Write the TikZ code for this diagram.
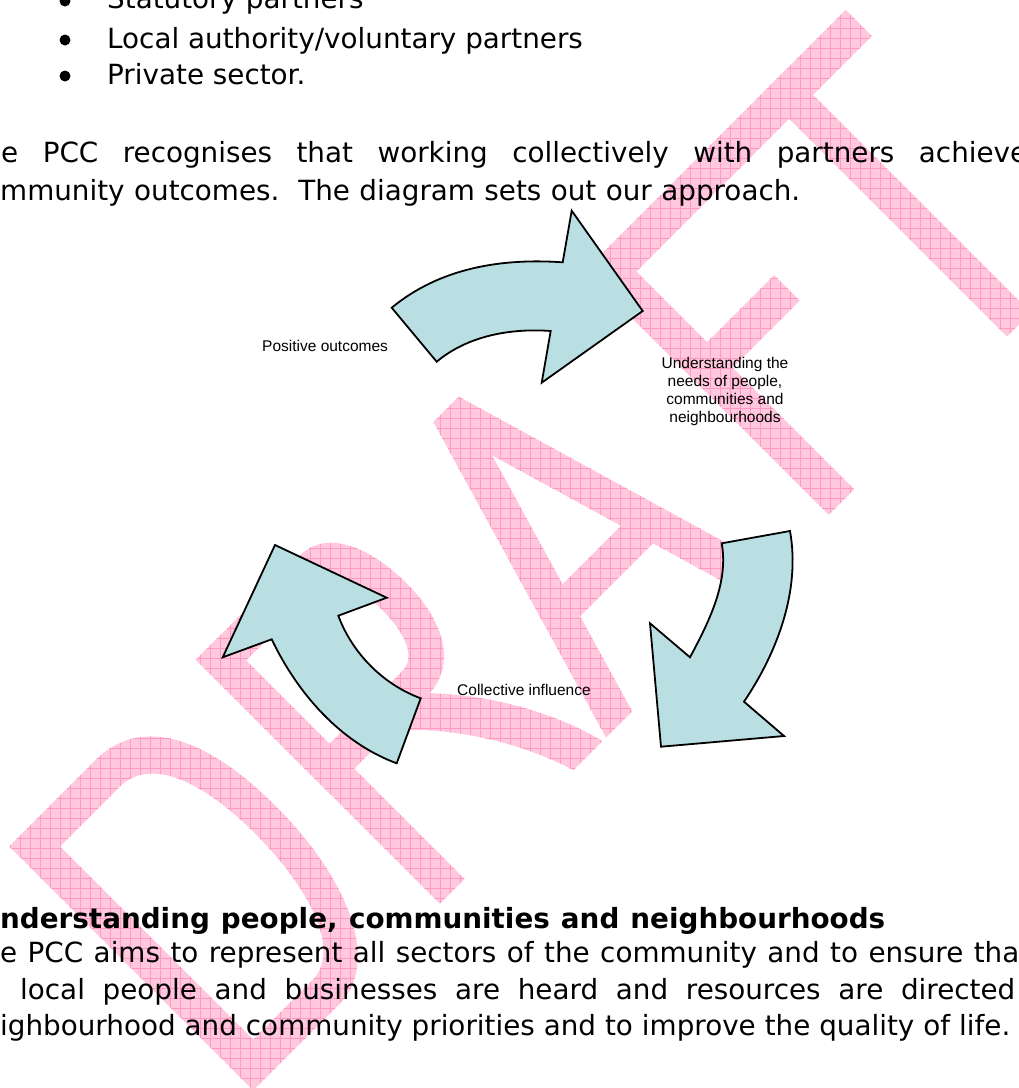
\documentclass[tikz,border=0pt]{standalone}
\usepackage{fontspec}
\setmainfont{DejaVu Sans}
\newfontfamily\labelfont{Liberation Sans}
\usetikzlibrary{patterns}

\definecolor{draftpink}{RGB}{255,200,221}
\definecolor{draftline}{RGB}{255,152,196}
\definecolor{arrowblue}{RGB}{186,223,227}

\pgfdeclarepatternformonly{draftgrid}{\pgfqpoint{-1pt}{-1pt}}{\pgfqpoint{11pt}{11pt}}{\pgfqpoint{10pt}{10pt}}{%
    \pgfsetlinewidth{0.8pt}%
    \pgfpathmoveto{\pgfqpoint{0pt}{-1pt}}\pgfpathlineto{\pgfqpoint{0pt}{11pt}}%
    \pgfpathmoveto{\pgfqpoint{-1pt}{0pt}}\pgfpathlineto{\pgfqpoint{11pt}{0pt}}%
    \pgfusepath{stroke}}

\tikzset{
    draftink/.style={fill=draftpink, postaction={pattern=draftgrid, pattern color=draftline}},
    bentarrow/.style={draw=black, line width=1.8pt, line join=miter, fill=arrowblue},
    tag/.style={font=\labelfont\fontsize{15.5}{18}\selectfont, align=center, inner sep=0pt},
    body/.style={font=\fontsize{27.8}{33}\selectfont, anchor=base west, inner sep=0pt},
    headline/.style={body, font=\fontsize{27.8}{33}\selectfont\bfseries}
}

\begin{document}
\begin{tikzpicture}[x=1pt, y=-1pt]
                                \useasboundingbox (0,0) rectangle (1019,1088);
                                \clip (0,0) rectangle (1019,1088);
                                \fill[white] (0,0) rectangle (1019,1088);

                                \begin{scope}[shift={(671.75,671.75)}, rotate=45, y=1pt]
                                    % D
                                    \fill[draftink, even odd rule] (-592,0) -- (-592,345) -- (-470,345)
                                    .. controls (-410,345) and (-375,290) .. (-375,185)
                                    .. controls (-375,80) and (-412,0) .. (-470,0) -- cycle
                                    (-556,36) -- (-556,309) -- (-472,309)
                                    .. controls (-432,309) and (-409,262) .. (-409,180)
                                    .. controls (-409,100) and (-432,36) .. (-472,36) -- cycle;
                                    % R
                                    \fill[draftink] (-328,0) rectangle (-293,345);
                                    \fill[draftink, even odd rule] (-328,345) -- (-180,345)
                                    .. controls (-145,345) and (-125,305) .. (-125,250)
                                    .. controls (-125,192) and (-150,156) .. (-190,156) -- (-328,156) -- cycle
                                    (-293,309) -- (-185,309)
                                    .. controls (-170,309) and (-161,288) .. (-161,250)
                                    .. controls (-161,212) and (-172,191) .. (-190,191) -- (-293,191) -- cycle;
                                    \fill[draftink] (-139,0) -- (-98,0)
                                    .. controls (-112,55) and (-145,115) .. (-195,165)
                                    -- (-243,160)
                                    .. controls (-195,118) and (-158,60) .. (-139,0) -- cycle;
                                    % A
                                    \fill[draftink] (-93,0) -- (-56,0) -- (45,345) -- (8,345) -- cycle;
                                    \fill[draftink] (108,0) -- (145,0) -- (44,345) -- (7,345) -- cycle;
                                    \fill[draftink] (-45,104) rectangle (100,139);
                                    % F
                                    \fill[draftink] (222,0) rectangle (258,345);
                                    \fill[draftink] (222,308) rectangle (420,345);
                                    \fill[draftink] (222,172) rectangle (353,208);
                                    % T
                                    \fill[draftink] (391,308) rectangle (591,345);
                                    \fill[draftink] (474,0) rectangle (508,345);
                                \end{scope}

                                \fill (65,1) circle (5.5);
                                \fill (65,40) circle (5.5);
                                \fill (65,76) circle (5.5);
                                \node[body] (statutory) at (107,8) {Statutory partners};
                                \node[body] (localvol) at (107,48) {Local authority/voluntary partners};
                                \node[body] (private) at (107,84) {Private sector.};

                                \node[body] (recognise) at (1,162)
                                {\makebox[1026pt][s]{e PCC recognises that working collectively with partners achieve}};
                                \node[body] (approach) at (0,200)
                                {\makebox[800pt][s]{mmunity outcomes.\ \ The diagram sets out our approach.}};

                                \draw[bentarrow] (391.7,307.7)
                                .. controls (440,268) and (501,258) .. (562.7,262.3)
                                -- (571.7,210.7)
                                -- (642.7,311)
                                -- (541.7,382.7)
                                -- (550.7,331)
                                .. controls (510,328) and (467.4,336) .. (436.7,361.7)
                                -- cycle;

                                \draw[bentarrow] (721.7,543.3)
                                -- (790,531)
                                .. controls (800.6,590) and (777.6,651.9) .. (744,701.7)
                                -- (784,736)
                                -- (661,746.7)
                                -- (650,623.3)
                                -- (690,657.3)
                                .. controls (708.8,622) and (728.8,582.7) .. (721.7,543.3)
                                -- cycle;

                                \draw[bentarrow] (420.7,698.3)
                                -- (396.7,763.3)
                                .. controls (340.4,742.5) and (297.5,693.3) .. (271.7,639.3)
                                -- (222.7,657.3)
                                -- (275,545)
                                -- (386.7,597.7)
                                -- (338.3,615.7)
                                .. controls (352.3,653.3) and (383.2,684.5) .. (420.7,698.3)
                                -- cycle;

                                \node[tag, anchor=west] (positive) at (262,346) {Positive outcomes};
                                \node[tag] (needs) at (725,391) {Understanding the\\needs of people,\\communities and\\neighbourhoods};
                                \node[tag, anchor=west] (collective) at (457,690) {Collective influence};

                                \node[headline] (heading) at (0,928)
                                {\makebox[885pt][s]{nderstanding people, communities and neighbourhoods}};
                                \node[body] (represent) at (0,962)
                                {\makebox[1030pt][s]{e PCC aims to represent all sectors of the community and to ensure that}};
                                \node[body] (heard) at (20,999)
                                {\makebox[995pt][s]{local people and businesses are heard and resources are directed}};
                                \node[body] (quality) at (0,1035)
                                {\makebox[1010pt][s]{ighbourhood and community priorities and to improve the quality of life.}};
\end{tikzpicture}
\end{document}
